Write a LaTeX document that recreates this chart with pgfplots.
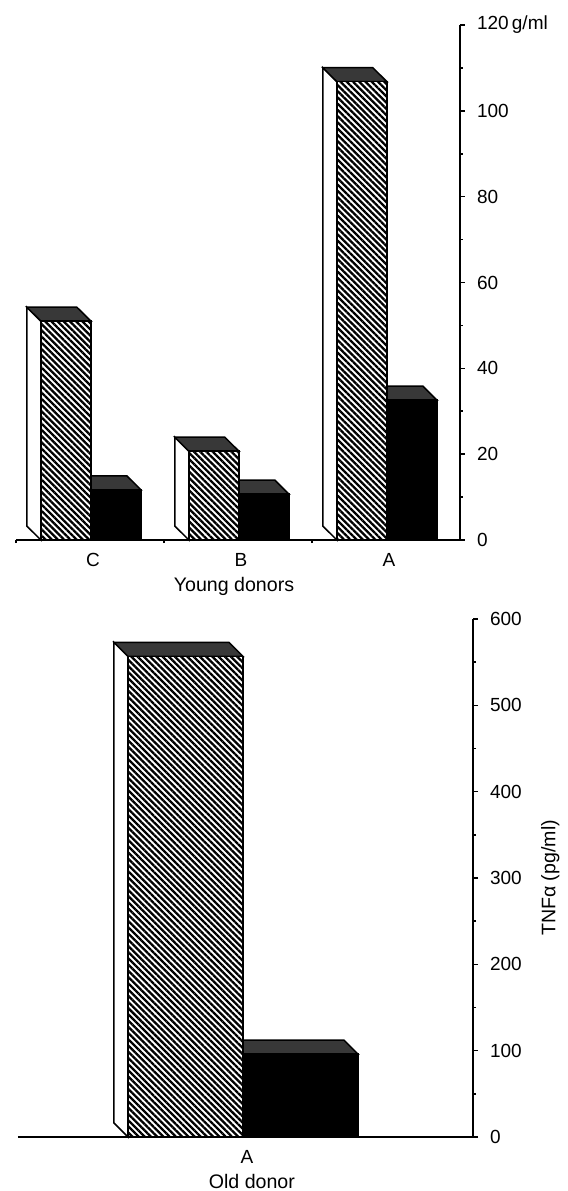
\documentclass[border=0pt]{standalone}
\usepackage{fontspec}
\setmainfont{Liberation Sans}
\usepackage{pgfplots}
\pgfplotsset{compat=1.18}
\usetikzlibrary{patterns.meta}

\tikzset{
  hatchfill/.style={fill=white, draw=black, line width=0.75pt,
    postaction={pattern={Lines[angle=-45,distance=2.2pt,line width=1.15pt]}, pattern color=black}},
  sideface/.style={fill=white, draw=black, line width=0.75pt},
  topface/.style={fill=black!78, draw=black, line width=0.75pt},
  blackbar/.style={fill=black, draw=black, line width=0.75pt},
}

\pgfplotsset{
  myaxis/.style={
    scale only axis,
    axis x line=bottom, axis y line=right,
    axis line style={-, line width=1pt},
    tick align=outside,
    major tick length=2.5pt,
    minor tick length=1.5pt,
    tick style={line width=0.8pt, black},
    tick label style={font=\fontsize{9.5}{11}\selectfont},
    label style={font=\fontsize{9.8}{12}\selectfont},
    yticklabel style={anchor=west, xshift=2.5pt},
    xticklabel style={yshift=-0.5pt},
    /pgf/number format/assume math mode=true,
    major x tick style={draw=none},
    clip=false,
  }
}

\begin{document}
\begin{tikzpicture}
\path[use as bounding box] (0,0) rectangle (284pt,-595.5pt);

% ---------------- Top panel: young donors ----------------
\begin{axis}[myaxis,
  at={(8pt,-270pt)}, anchor=south west,
  width=222pt, height=257.5pt,
  xmin=0, xmax=3, ymin=0, ymax=120,
  xtick={0.52,1.52,2.52}, xticklabels={C,B,A},
  minor xtick={0,1,2},
  ytick={0,20,40,60,80,100,120},
  yticklabels={0,20,40,60,80,100,{120\,g/ml}},
  minor ytick={10,30,50,70,90,110},
  xlabel={Young donors},
  xlabel style={at={(axis description cs:0.491,-0.1)}, anchor=base},
]
% black bars: top faces then fronts
\addplot[topface] coordinates {(0.506,11.7)(0.411,14.96)(0.749,14.96)(0.844,11.7)} -- cycle;
\addplot[topface] coordinates {(1.506,10.7)(1.411,13.96)(1.749,13.96)(1.844,10.7)} -- cycle;
\addplot[topface] coordinates {(2.506,32.6)(2.411,35.86)(2.749,35.86)(2.844,32.6)} -- cycle;
\addplot[ybar, bar width=0.338, bar shift=0pt, blackbar]
  coordinates {(0.675,11.7)(1.675,10.7)(2.675,32.6)};
% hatched bars: side faces, top faces, fronts
\addplot[sideface] coordinates {(0.168,0)(0.168,51.0)(0.073,54.26)(0.073,3.26)} -- cycle;
\addplot[sideface] coordinates {(1.168,0)(1.168,20.7)(1.073,23.96)(1.073,3.26)} -- cycle;
\addplot[sideface] coordinates {(2.168,0)(2.168,106.8)(2.073,110.06)(2.073,3.26)} -- cycle;
\addplot[topface] coordinates {(0.168,51.0)(0.073,54.26)(0.411,54.26)(0.506,51.0)} -- cycle;
\addplot[topface] coordinates {(1.168,20.7)(1.073,23.96)(1.411,23.96)(1.506,20.7)} -- cycle;
\addplot[topface] coordinates {(2.168,106.8)(2.073,110.06)(2.411,110.06)(2.506,106.8)} -- cycle;
\addplot[ybar, bar width=0.338, bar shift=0pt, hatchfill]
  coordinates {(0.337,51.0)(1.337,20.7)(2.337,106.8)};
\end{axis}

% ---------------- Bottom panel: old donor ----------------
\begin{axis}[myaxis,
  at={(9pt,-568.5pt)}, anchor=south west,
  width=227.5pt, height=259pt,
  xmin=0, xmax=455, ymin=0, ymax=600,
  xtick={229}, xticklabels={A},
  ytick={0,100,200,300,400,500,600},
  minor ytick={50,150,250,350,450,550},
  xlabel={Old donor},
  xlabel style={at={(axis description cs:0.514,-0.1)}, anchor=base},
  ylabel={TNFα (pg/ml)},
  ylabel style={at={(axis description cs:1.17,0.5)}, anchor=center},
]
\addplot[topface] coordinates {(225,96)(211,112.2)(326,112.2)(340,96)} -- cycle;
\addplot[ybar, bar width=115, bar shift=0pt, blackbar] coordinates {(282.5,96)};
\addplot[sideface] coordinates {(110,0)(110,556.7)(96,572.9)(96,16.2)} -- cycle;
\addplot[topface] coordinates {(110,556.7)(96,572.9)(211,572.9)(225,556.7)} -- cycle;
\addplot[ybar, bar width=115, bar shift=0pt, hatchfill] coordinates {(167.5,556.7)};
\end{axis}
\end{tikzpicture}
\end{document}
